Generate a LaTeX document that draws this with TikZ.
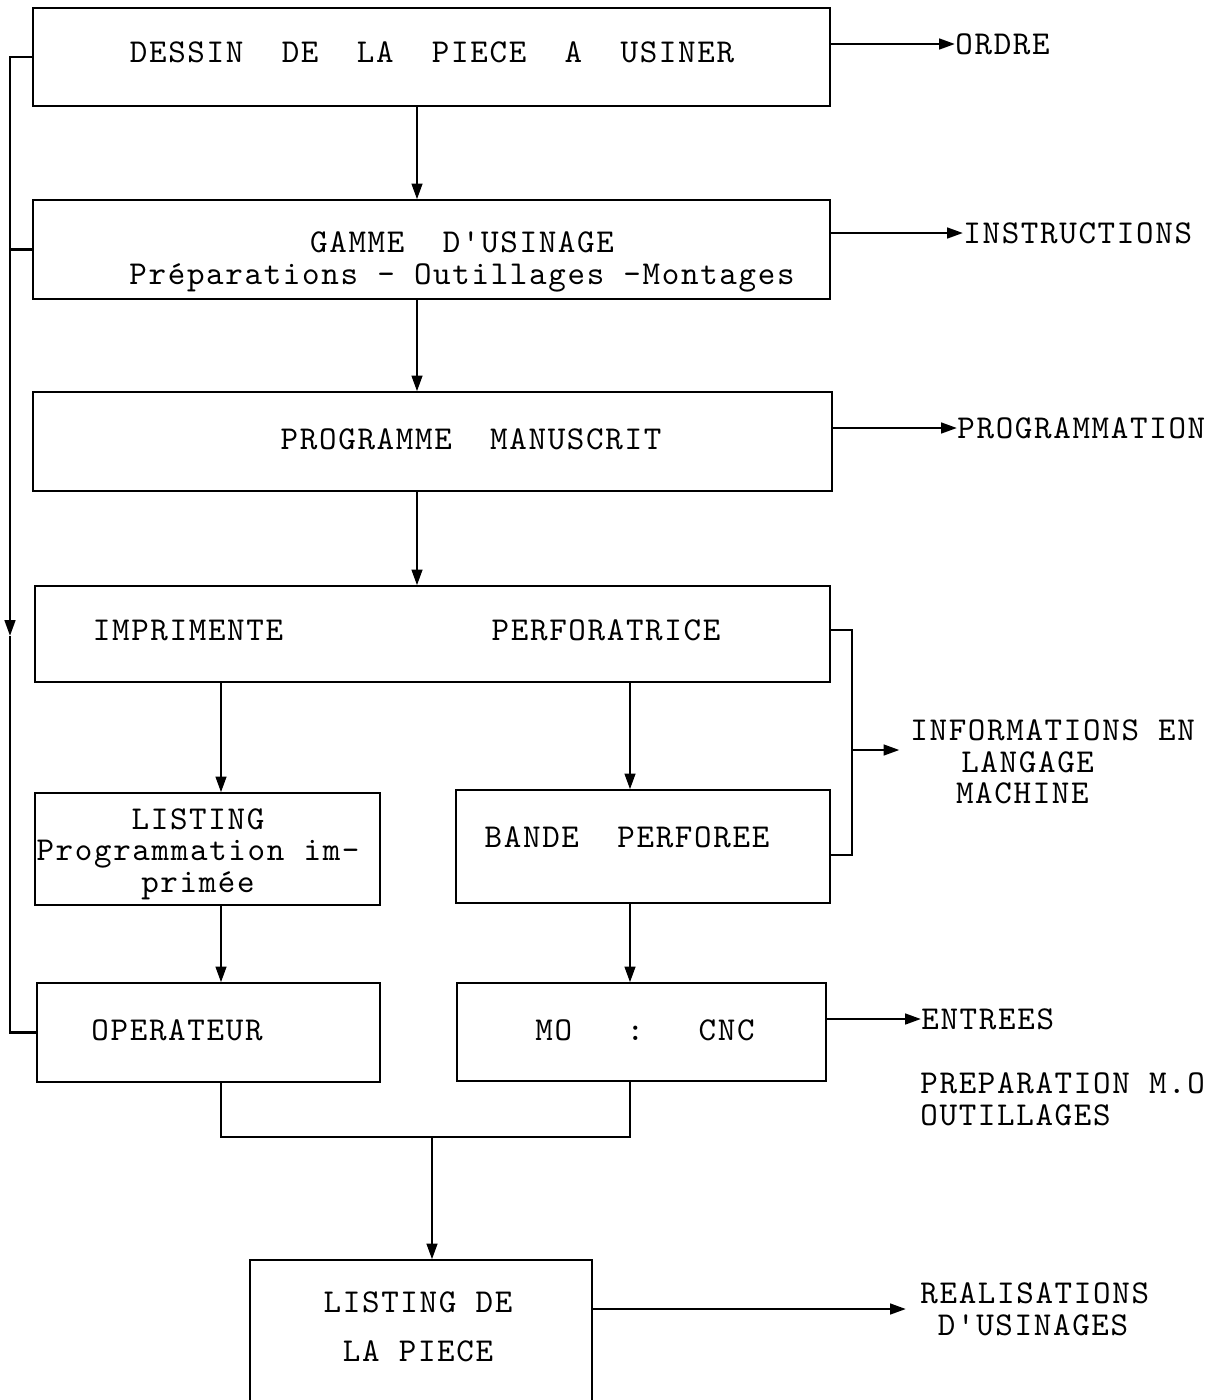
\documentclass[tikz,border=0pt]{standalone}
\usepackage{fontspec}
\setmonofont{lmmono10-regular.otf}[LetterSpace=5]
\usetikzlibrary{arrows.meta}
\tikzset{
  box/.style={draw, line width=0.7pt, inner sep=0pt},
  txt/.style={font=\ttfamily\fontsize{19pt}{18pt}\selectfont, inner sep=0pt},
  link/.style={line width=1.5pt},
  flow/.style={link, -{Triangle[length=9pt,width=6pt]}},
}
\begin{document}
\begin{tikzpicture}[x=0.02cm,y=-0.02cm]
    \useasboundingbox (0,0) rectangle (1212,1400);
    \clip (0,0) rectangle (1212,1400);

    \node[box, minimum width=15.94cm, minimum height=1.96cm] (dessin) at (431.5,57) {};
    \node[box, minimum width=15.94cm, minimum height=1.98cm] (gamme) at (431.5,249.5) {};
    \node[box, minimum width=15.98cm, minimum height=1.98cm] (prog) at (432.5,441.5) {};
    \node[box, minimum width=15.90cm, minimum height=1.92cm] (saisie) at (432.5,634) {};
    \node[box, minimum width=6.90cm, minimum height=2.24cm] (listing) at (207.5,849) {};
    \node[box, minimum width=7.48cm, minimum height=2.26cm] (bande) at (643,846.5) {};
    \node[box, minimum width=6.86cm, minimum height=1.98cm] (operateur) at (208.5,1032.5) {};
    \node[box, minimum width=7.38cm, minimum height=1.96cm] (mo) at (641.5,1032) {};
    \node[box, minimum width=6.84cm, minimum height=3.60cm] (piece) at (421,1350) {};

    \node[txt] (tdessin) at (432,52) {DESSIN~~DE~~LA~~PIECE~~A~~USINER};
    \node[txt, align=center] (tgamme) at (462,262) {GAMME~~D'USINAGE\\Préparations - Outillages -Montages};
    \node[txt] (tprog) at (471,439) {PROGRAMME~~MANUSCRIT};
    \node[txt] (timp) at (188,630) {IMPRIMENTE};
    \node[txt] (tperf) at (606,630) {PERFORATRICE};
    \node[txt, align=center] (tlisting) at (198,854) {LISTING\\Programmation im-\\primée};
    \node[txt] (tbande) at (627,837) {BANDE~~PERFOREE};
    \node[txt] (toper) at (177,1030) {OPERATEUR};
    \node[txt] (tmo) at (645,1030) {MO\hspace{31pt}:\hspace{31pt}CNC};
    \node[txt, align=center] (tpiece) at (418,1327) {LISTING DE\\[10pt]LA PIECE};

    \node[txt, anchor=west] (ordre) at (955,44) {ORDRE};
    \node[txt, anchor=west] (instr) at (963,233) {INSTRUCTIONS};
    \node[txt, anchor=west] (progr) at (957,428) {PROGRAMMATION};
    \node[txt, anchor=west, align=left] (info) at (910,762) {INFORMATIONS EN\\\hspace*{29pt}LANGAGE\\\hspace*{26pt}MACHINE};
    \node[txt, anchor=west] (entrees) at (921,1019) {ENTREES};
    \node[txt, anchor=west, align=left] (prep) at (920,1099) {PREPARATION M.O\\OUTILLAGES};
    \node[txt, anchor=west, align=left] (real) at (920,1309) {REALISATIONS\\\hspace*{10pt}D'USINAGES};

    \coordinate (spine) at (417,0);
    \coordinate (colA) at (221,0);
    \coordinate (colB) at (630,0);
    \coordinate (fbarrow) at (10,636);
    \coordinate (brtop) at (852,630);
    \coordinate (brbot) at (852,855);
    \coordinate (brmid) at (852,750);
    \coordinate (join) at (432,1137);

    \draw[flow] (dessin.south -| spine) -- (gamme.north -| spine);
    \draw[flow] (gamme.south -| spine) -- (prog.north -| spine);
    \draw[flow] (prog.south -| spine) -- (saisie.north -| spine);
    \draw[flow] (saisie.south -| colA) -- (listing.north -| colA);
    \draw[flow] (saisie.south -| colB) -- (bande.north -| colB);
    \draw[flow] (listing.south -| colA) -- (operateur.north -| colA);
    \draw[flow] (bande.south -| colB) -- (mo.north -| colB);
    \draw[link] (operateur.south -| colA) |- (join) -| (mo.south -| colB);
    \draw[flow] (join) -- (join |- piece.north);

    \draw[flow] (dessin.west) -| (fbarrow);
    \draw[link] (fbarrow) |- (operateur.west);
    \draw[link] (gamme.west) -- (gamme.west -| fbarrow);

    \draw[flow] (ordre.west -| dessin.east) -- (ordre.west);
    \draw[flow] (instr.west -| gamme.east) -- (instr.west);
    \draw[flow] (progr.west -| prog.east) -- (progr.west);
    \draw[link] (brtop -| saisie.east) -- (brtop) -- (brbot) -- (brbot -| bande.east);
    \draw[flow, shorten >=6pt] (brmid) -- (brmid -| info.west);
    \draw[flow] (entrees.west -| mo.east) -- (entrees.west);
    \draw[flow, shorten >=8pt] (piece.east |- real.west) -- (real.west);
\end{tikzpicture}
\end{document}
